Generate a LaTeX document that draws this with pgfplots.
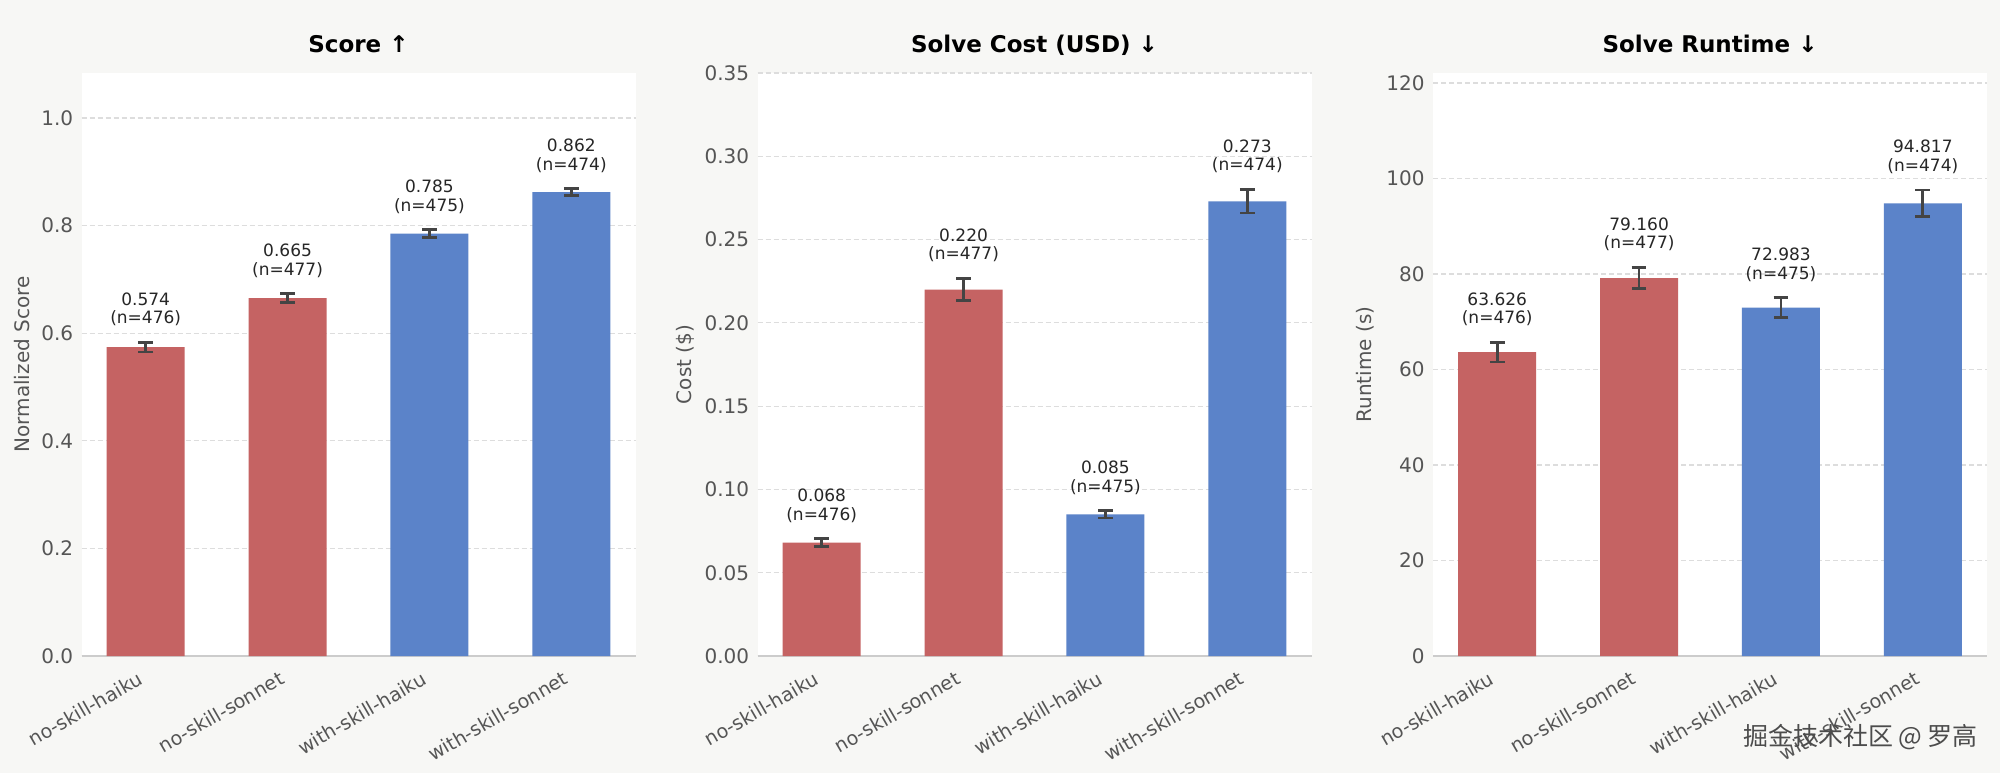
\documentclass[border=0pt]{standalone}
\usepackage{fontspec}
\setmainfont{DejaVu Sans}
\newfontfamily\cjk{Noto Sans CJK SC}
\usepackage{pgfplots}
\pgfplotsset{compat=1.18}
\definecolor{figbg}{RGB}{247,247,245}
\definecolor{barred}{RGB}{197,99,99}
\definecolor{barblue}{RGB}{91,131,201}
\definecolor{errgray}{RGB}{68,68,68}
\definecolor{ticktext}{RGB}{85,85,85}
\definecolor{gridc}{RGB}{221,221,221}
\definecolor{spinec}{RGB}{204,204,204}

\pgfplotsset{
  panel/.style={
    scale only axis, width=277pt, height=291.5pt, anchor=south west,
    axis background/.style={fill=white},
    xmin=-0.4525, xmax=3.4525, ymin=0,
    xtick={0,1,2,3},
    xticklabels={no-skill-haiku,no-skill-sonnet,with-skill-haiku,with-skill-sonnet},
    axis x line*=bottom, axis y line*=left,
    x axis line style={draw=spinec, line width=1pt},
    y axis line style={draw=none},
    major tick length=0pt,
    ymajorgrids,
    major grid style={draw=gridc, line width=0.6pt, dash pattern=on 2.5pt off 1.5pt},
    /pgf/number format/assume math mode=true,
    scaled y ticks=false,
    xticklabel style={yshift=-7pt, xshift=-4.5pt, rotate=30, anchor=north east, inner sep=0pt, font=\fontsize{9.6}{11}\selectfont, text=ticktext},
    yticklabel style={anchor=east, inner sep=0pt, xshift=-4pt, font=\fontsize{10}{12}\selectfont, text=ticktext},
    every axis title/.style={at={(0.5,1)}, anchor=base, yshift=10.5pt, font=\bfseries\fontsize{11.5}{13}\selectfont, text=black},
    every axis y label/.style={rotate=90, anchor=center, font=\fontsize{10}{12}\selectfont, text=ticktext},
    clip=false,
  },
  bars/.style={ybar, bar width=0.55, bar shift=0pt, draw=none, fill=#1,
    error bars/.cd, y dir=both, y explicit,
    error bar style={line width=1.4pt, draw=errgray},
    error mark options={rotate=90, mark size=3.7pt, line width=1.4pt, draw=errgray}},
  vals/.style={only marks, mark=text, text mark={}, point meta=explicit symbolic, nodes near coords,
    every node near coord/.append style={anchor=south, align=center, inner sep=0pt, yshift=8pt, font=\fontsize{8.5}{9.2}\selectfont, text=black!85}},
}

\begin{document}
\begin{tikzpicture}
\fill[figbg] (0,0) rectangle (1000pt,386.5pt);
\useasboundingbox (0,0) rectangle (1000pt,386.5pt);

% Panel 1: Score
\begin{axis}[panel, at={(40.75pt,58.5pt)}, ymax=1.0836,
  ytick={0,0.2,0.4,0.6,0.8,1.0},
  yticklabel style={/pgf/number format/fixed, /pgf/number format/fixed zerofill, /pgf/number format/precision=1},
  title={Score ↑}, ylabel={Normalized Score},
  ylabel style={at={(axis description cs:-0.1065,0.5)}}]
\addplot[bars=barred] coordinates {(0,0.574) +- (0,0.009) (1,0.665) +- (0,0.0081)};
\addplot[bars=barblue] coordinates {(2,0.785) +- (0,0.0074) (3,0.862) +- (0,0.0065)};
\addplot[vals] coordinates {(0,0.583) [0.574\\(n=476)] (1,0.6731) [0.665\\(n=477)] (2,0.7924) [0.785\\(n=475)] (3,0.8685) [0.862\\(n=474)]};
\end{axis}

% Panel 2: Cost
\begin{axis}[panel, at={(378.75pt,58.5pt)}, ymax=0.35,
  ytick={0,0.05,0.10,0.15,0.20,0.25,0.30,0.35},
  yticklabel style={/pgf/number format/fixed, /pgf/number format/fixed zerofill, /pgf/number format/precision=2},
  title={Solve Cost (USD) ↓}, ylabel={Cost (\$)},
  ylabel style={at={(axis description cs:-0.1309,0.5)}}]
\addplot[bars=barred] coordinates {(0,0.068) +- (0,0.0024) (1,0.220) +- (0,0.0066)};
\addplot[bars=barblue] coordinates {(2,0.085) +- (0,0.0022) (3,0.273) +- (0,0.0070)};
\addplot[vals] coordinates {(0,0.0704) [0.068\\(n=476)] (1,0.2266) [0.220\\(n=477)] (2,0.0872) [0.085\\(n=475)] (3,0.280) [0.273\\(n=474)]};
\end{axis}

% Panel 3: Runtime
\begin{axis}[panel, at={(716.5pt,58.5pt)}, ymax=122.1,
  ytick={0,20,40,60,80,100,120},
  title={Solve Runtime ↓}, ylabel={Runtime (s)},
  ylabel style={at={(axis description cs:-0.1227,0.5)}}]
\addplot[bars=barred] coordinates {(0,63.626) +- (0,2.06) (1,79.160) +- (0,2.2)};
\addplot[bars=barblue] coordinates {(2,72.983) +- (0,2.06) (3,94.817) +- (0,2.8)};
\addplot[vals] coordinates {(0,65.69) [63.626\\(n=476)] (1,81.36) [79.160\\(n=477)] (2,75.04) [72.983\\(n=475)] (3,97.62) [94.817\\(n=474)]};
\end{axis}

\node[font=\cjk\fontsize{12.5}{14}\selectfont, text=black!70] at (930.25pt,17.75pt) {掘金技术社区 @ 罗高};
\end{tikzpicture}
\end{document}
